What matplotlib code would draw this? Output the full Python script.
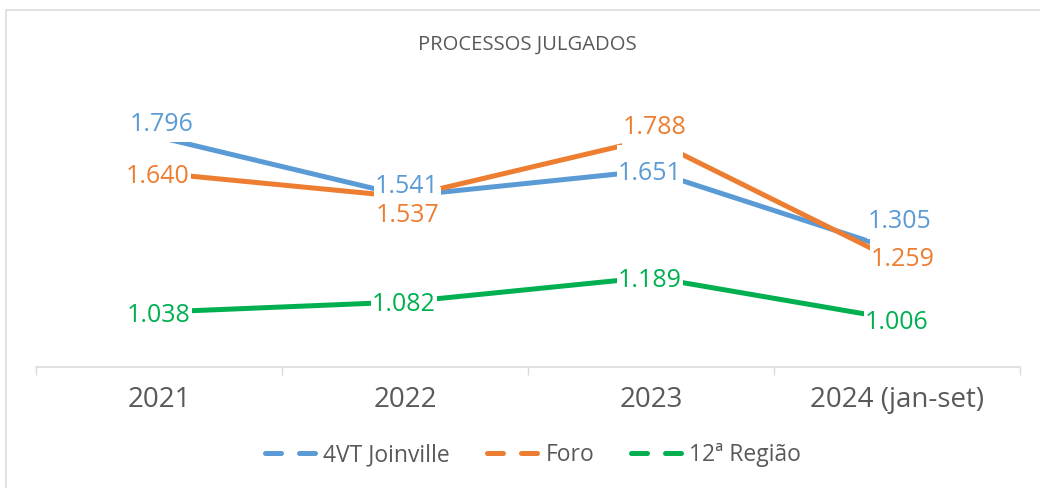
import matplotlib
matplotlib.use("Agg")
import matplotlib.pyplot as plt
from matplotlib.lines import Line2D
from matplotlib.patches import Rectangle
from matplotlib.transforms import IdentityTransform

plt.rcParams['font.family'] = ['Open Sans', 'DejaVu Sans']

# ---- data ----
title = "PROCESSOS JULGADOS"
categories = ["2021", "2022", "2023", "2024 (jan-set)"]
series_names = ["4VT Joinville", "Foro", "12ª Região"]
joinville = [1796, 1541, 1651, 1305]
foro = [1640, 1537, 1788, 1259]
regiao = [1038, 1082, 1189, 1006]

# ---- style ----
colors = ["#5B9BD5", "#ED7D31", "#00B050"]
text_grey = "#595959"
line_grey = "#D9D9D9"
# label baseline offsets in pixels (dx, dy downward) relative to each point
label_offsets = [
    [(3, -6), (2, -3), (-1, 9), (3, -22)],
    [(-1, 10), (3, 25), (4, -5), (6, 5)],
    [(0, 9.5), (-1, 9.5), (-1, 9.7), (0, 9.6)],
]

W, H = 1040, 488
fig = plt.figure(figsize=(W / 100, H / 100), dpi=100)
ax = fig.add_axes([36 / W, 1 - 367 / H, 984 / W, (367 - 90) / H])

ax.set_xlim(-0.5, len(categories) - 0.5)
ax.set_ylim(800, 2000)
for s in ["left", "right", "top"]:
    ax.spines[s].set_visible(False)
ax.spines["bottom"].set_color(line_grey)
ax.spines["bottom"].set_linewidth(1.1)
ax.set_yticks([])

n = len(categories)
ax.set_xticks([i - 0.5 for i in range(n + 1)])
ax.tick_params(axis="x", which="major", length=5.8, width=1.0, color=line_grey,
               labelbottom=False)
ax.set_xticks(range(n), labels=categories, minor=True)
ax.tick_params(axis="x", which="minor", length=0, pad=14, labelsize=20,
               labelcolor=text_grey)

all_series = [joinville, foro, regiao]
xs = list(range(n))
anns = []
for vals, c, offs in zip(all_series, colors, label_offsets):
    ax.plot(xs, vals, color=c, lw=3.6, solid_capstyle="butt",
            solid_joinstyle="round", zorder=2)
    for i, v in enumerate(vals):
        txt = f"{v:,}".replace(",", ".")
        dx, dy = offs[i]
        a = ax.annotate(txt, xy=(i, v), xytext=(dx, -dy),
                        textcoords="offset pixels", ha="center", va="baseline",
                        fontsize=18, color=c, zorder=5, annotation_clip=False)
        anns.append(a)

# title
fig.text(527 / W, 1 - 45 / H, title, ha="center", va="center",
         fontsize=14.6, color=text_grey)

# legend
handles = [Line2D([], [], color=c, lw=3.6, linestyle=(0, (3.2, 3.6)),
                  dash_capstyle="round") for c in colors]
fig.legend(handles, series_names, loc="center",
           bbox_to_anchor=(533 / W, 1 - 455 / H), ncol=3, frameon=False,
           fontsize=16.5, handlelength=2.3, handletextpad=0.25,
           columnspacing=1.6, labelcolor=text_grey)

# chart border
fig.add_artist(Rectangle((6 / W, -0.1), 1.0, 1 - 10 / H + 0.1,
                         transform=fig.transFigure, fill=False,
                         edgecolor=line_grey, lw=1.1))

# white label boxes (hide lines behind labels like Excel)
fig.canvas.draw()
renderer = fig.canvas.get_renderer()
for a in anns:
    bb = a.get_window_extent(renderer)
    r = Rectangle((bb.x0 - 1, bb.y0 - 5), bb.width + 2, bb.height + 5 + 16,
                  transform=IdentityTransform(), facecolor="white",
                  edgecolor="none", zorder=4)
    r.set_clip_on(False)
    ax.add_artist(r)

fig.savefig("out.png", dpi=100)
